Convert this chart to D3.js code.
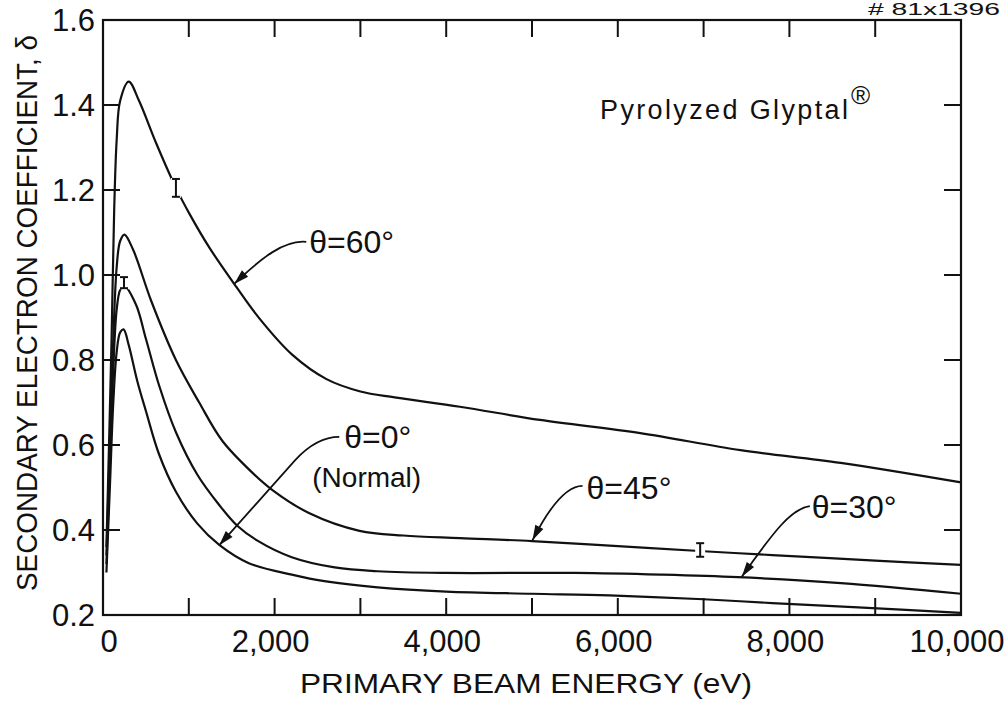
<!DOCTYPE html>
<html>
<head>
<meta charset="utf-8">
<script src="https://cdn.jsdelivr.net/npm/d3@7"></script>
<style>
  html, body { margin: 0; padding: 0; background: #fff; }
  svg { display: block; }
  text { font-family: "Liberation Sans", Arial, sans-serif; fill: #111; }
</style>
</head>
<body>
<svg id="chart" width="1008" height="702"></svg>
<script>
// ---------------- data ----------------
const xTicks = [0, 2000, 4000, 6000, 8000, 10000];
const xTickLabels = ["0", "2,000", "4,000", "6,000", "8,000", "10,000"];
const xMinorTicks = [1000, 3000, 5000, 7000, 9000];
const yTicks = [0.2, 0.4, 0.6, 0.8, 1.0, 1.2, 1.4, 1.6];
const yTickLabels = ["0.2", "0.4", "0.6", "0.8", "1.0", "1.2", "1.4", "1.6"];

// theta = 0 deg (Normal)
const e0 = [40, 80, 120, 160, 200, 240, 300, 400, 500, 650, 850, 1100, 1355, 1700, 2200, 2600, 3200, 4000, 5000, 5900, 7000, 7800, 8800, 10000];
const d0 = [0.30, 0.50, 0.70, 0.82, 0.865, 0.872, 0.835, 0.75, 0.68, 0.58, 0.49, 0.415, 0.365, 0.322, 0.295, 0.279, 0.265, 0.255, 0.25, 0.246, 0.237, 0.228, 0.218, 0.205];
// theta = 30 deg
const e30 = [40, 80, 120, 160, 200, 245, 385, 500, 654, 850, 1100, 1350, 1565, 1800, 2200, 2700, 3200, 4000, 5500, 6500, 7400, 8600, 10000];
const d30 = [0.32, 0.55, 0.78, 0.92, 0.965, 0.975, 0.93, 0.85, 0.74, 0.63, 0.53, 0.46, 0.41, 0.375, 0.336, 0.312, 0.303, 0.299, 0.299, 0.295, 0.289, 0.275, 0.25];
// theta = 45 deg
const e45 = [40, 80, 120, 160, 200, 250, 350, 560, 850, 1121, 1390, 1740, 1975, 2400, 2990, 3500, 4159, 5000, 6000, 7000, 7800, 9000, 10000];
const d45 = [0.34, 0.60, 0.85, 1.02, 1.08, 1.095, 1.06, 0.94, 0.80, 0.70, 0.61, 0.535, 0.494, 0.44, 0.398, 0.387, 0.381, 0.374, 0.362, 0.35, 0.341, 0.328, 0.318];
// theta = 60 deg
const e60 = [40, 70, 100, 130, 160, 200, 300, 420, 620, 850, 1005, 1238, 1554, 1822, 2208, 2605, 3000, 3400, 4159, 5093, 6262, 7430, 8598, 10000];
const d60 = [0.36, 0.60, 0.85, 1.15, 1.32, 1.41, 1.455, 1.41, 1.31, 1.205, 1.145, 1.065, 0.972, 0.898, 0.812, 0.755, 0.726, 0.712, 0.69, 0.659, 0.628, 0.588, 0.558, 0.512];

// error bars
const errE = [850, 245, 6960];
const errD = [1.205, 0.982, 0.353];
const errHalf = [0.021, 0.013, 0.016];

// curve labels
const labelText = ["θ=60°", "θ=0°", "θ=45°", "θ=30°"];
const labelE = [2404, 2812, 5636, 8261];
const labelD = [1.052, 0.593, 0.473, 0.428];
// leader lines (cubic bezier start, c1, c2, end) in data space
const leaders = [
  [[2369, 1.078], [2112, 1.083], [1844, 1.040], [1529, 0.979]],
  [[2754, 0.619], [2544, 0.619], [2380, 0.595], [1354, 0.364]],
  [[5589, 0.504], [5414, 0.504], [5228, 0.464], [5006, 0.376]],
  [[8238, 0.456], [8028, 0.451], [7830, 0.400], [7445, 0.290]]
];

const titleText = "Pyrolyzed Glyptal";
const xTitle = "PRIMARY BEAM ENERGY (eV)";
const yTitle = "SECONDARY ELECTRON COEFFICIENT, δ";
const stampText = "# 81x1396";

// ---------------- drawing ----------------
const svg = d3.select("#chart");
const L = 103, R = 961, T = 20, B = 615;
const x = d3.scaleLinear().domain([0, 10000]).range([L, R]);
const y = d3.scaleLinear().domain([0.2, 1.6]).range([B, T]);
const ink = "#111";

// frame
svg.append("rect").attr("x", L).attr("y", T).attr("width", R - L).attr("height", B - T)
  .attr("fill", "none").attr("stroke", ink).attr("stroke-width", 2.2);

// ticks (inward on all sides)
const tk = 17;
const allX = xTicks.concat(xMinorTicks).filter(v => v > 0 && v < 10000);
allX.forEach(v => {
  svg.append("line").attr("x1", x(v)).attr("x2", x(v)).attr("y1", B).attr("y2", B - tk).attr("stroke", ink).attr("stroke-width", 2);
  svg.append("line").attr("x1", x(v)).attr("x2", x(v)).attr("y1", T).attr("y2", T + tk).attr("stroke", ink).attr("stroke-width", 2);
});
yTicks.filter(v => v > 0.2 && v < 1.6).forEach(v => {
  svg.append("line").attr("x1", L).attr("x2", L + tk).attr("y1", y(v)).attr("y2", y(v)).attr("stroke", ink).attr("stroke-width", 2);
  svg.append("line").attr("x1", R).attr("x2", R - tk).attr("y1", y(v)).attr("y2", y(v)).attr("stroke", ink).attr("stroke-width", 2);
});

// tick labels
xTicks.forEach((v, i) => {
  svg.append("text").attr("x", x(v) + (i === 0 ? 6 : -4)).attr("y", 652)
    .attr("text-anchor", "middle").attr("font-size", 31).text(xTickLabels[i]);
});
yTicks.forEach((v, i) => {
  svg.append("text").attr("x", 95).attr("y", y(v) + 11)
    .attr("text-anchor", "end").attr("font-size", 31).text(yTickLabels[i]);
});

// axis titles
svg.append("text").attr("x", 526).attr("y", 693).attr("text-anchor", "middle")
  .attr("font-size", 28).attr("textLength", 452).attr("lengthAdjust", "spacingAndGlyphs").text(xTitle);
svg.append("text").attr("transform", "translate(37,313) rotate(-90)").attr("text-anchor", "middle")
  .attr("font-size", 29).attr("textLength", 556).attr("lengthAdjust", "spacingAndGlyphs").text(yTitle);

// stamp (top-right)
svg.append("text").attr("x", 868).attr("y", 15).attr("font-size", 16)
  .attr("textLength", 132).attr("lengthAdjust", "spacingAndGlyphs").text(stampText);

// title
svg.append("text").attr("x", 600).attr("y", 119).attr("font-size", 27)
  .attr("textLength", 248).attr("lengthAdjust", "spacing").text(titleText);
svg.append("text").attr("x", 851).attr("y", 104).attr("font-size", 26).text("®");

// curves
const line = d3.line().x(d => x(d[0])).y(d => y(d[1])).curve(d3.curveCatmullRom.alpha(0.5));
const series = [[e0, d0], [e30, d30], [e45, d45], [e60, d60]];
series.forEach(([es, ds]) => {
  svg.append("path").datum(es.map((e, i) => [e, ds[i]]))
    .attr("d", line).attr("fill", "none").attr("stroke", ink).attr("stroke-width", 2.2)
    .attr("stroke-linejoin", "round");
});

// error bars ("I" marks with a small gap in the curve)
errE.forEach((e, i) => {
  const cx = x(e), y1 = y(errD[i] + errHalf[i]), y2 = y(errD[i] - errHalf[i]);
  svg.append("rect").attr("x", cx - 5).attr("y", y1 - 1).attr("width", 10).attr("height", y2 - y1 + 2).attr("fill", "#fff");
  svg.append("line").attr("x1", cx).attr("x2", cx).attr("y1", y1).attr("y2", y2).attr("stroke", ink).attr("stroke-width", 2);
  [y1, y2].forEach(yy => svg.append("line").attr("x1", cx - 4).attr("x2", cx + 4).attr("y1", yy).attr("y2", yy).attr("stroke", ink).attr("stroke-width", 2));
});

// labels and leaders with arrowheads
labelText.forEach((t, i) => {
  svg.append("text").attr("x", x(labelE[i])).attr("y", y(labelD[i])).attr("font-size", 32).text(t);
  const p = leaders[i].map(d => [x(d[0]), y(d[1])]);
  const path = d3.path();
  path.moveTo(p[0][0], p[0][1]);
  let from;
  if (i === 1) {
    from = [p[2][0] - 12, p[2][1] + 13];
    path.bezierCurveTo(p[1][0], p[1][1], p[2][0], p[2][1], from[0], from[1]);
    path.lineTo(p[3][0], p[3][1]);
  } else {
    from = p[2];
    path.bezierCurveTo(p[1][0], p[1][1], p[2][0], p[2][1], p[3][0], p[3][1]);
  }
  svg.append("path").attr("d", path.toString()).attr("fill", "none").attr("stroke", ink).attr("stroke-width", 1.8);
  const tip = p[3];
  const ang = Math.atan2(tip[1] - from[1], tip[0] - from[0]);
  const len = 15, hw = 4.5;
  const bx = tip[0] - len * Math.cos(ang), by = tip[1] - len * Math.sin(ang);
  const nx = -Math.sin(ang) * hw, ny = Math.cos(ang) * hw;
  svg.append("path").attr("d", `M${tip[0]},${tip[1]}L${bx + nx},${by + ny}L${bx - nx},${by - ny}Z`).attr("fill", ink);
});
// Normal label
svg.append("text").attr("x", x(2439)).attr("y", y(0.501)).attr("font-size", 28).text("(Normal)");
</script>
</body>
</html>
